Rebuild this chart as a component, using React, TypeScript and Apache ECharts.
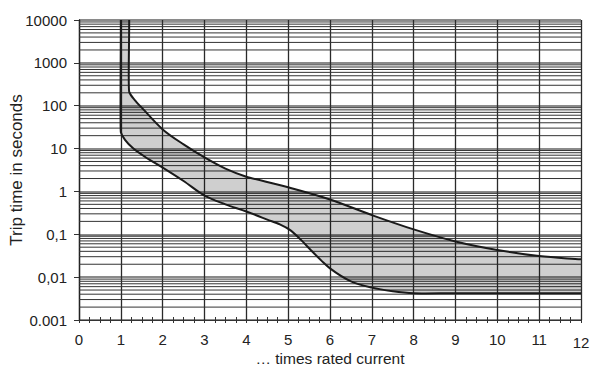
import React, { useEffect, useRef } from "react";
import * as echarts from "echarts";

// Upper boundary (slowest trip) of the tripping band
const upperX = [1.2, 1.2, 1.35, 1.55, 2.0, 2.5, 3.0, 3.5, 4.0, 5.0, 6.0, 7.0, 8.0, 9.0, 10.0, 11.0, 12.0];
const upperY = [10000, 210, 130, 80, 28, 12.5, 6.2, 3.4, 2.2, 1.25, 0.65, 0.28, 0.13, 0.068, 0.043, 0.031, 0.026];

// Lower boundary (fastest trip) of the tripping band
const lowerX = [1.0, 1.0, 1.1, 1.3, 1.6, 2.0, 2.5, 3.0, 3.5, 4.0, 4.5, 4.8, 5.05, 5.3, 5.55, 5.8, 6.0, 6.5, 7.0, 7.5, 8.0, 9.0, 10.0, 11.0, 12.0];
const lowerY = [10000, 24, 16, 10, 6.2, 3.6, 1.75, 0.8, 0.5, 0.34, 0.22, 0.17, 0.125, 0.075, 0.042, 0.024, 0.016, 0.008, 0.0057, 0.0047, 0.0042, 0.0042, 0.0042, 0.0042, 0.0042];

// Y tick labels, from 0.001 up to 10000
const yTickLabels = ["0.001", "0,01", "0,1", "1", "10", "100", "1000", "10000"];
const minorFactors = [2, 3, 4, 5, 6, 7, 8, 9];
const decadeExponents = [-3, -2, -1, 0, 1, 2, 3];

const FONT = "'Liberation Sans', Arial, Helvetica, sans-serif";

function smoothPath(p: number[][], move: boolean): string {
  const n = p.length;
  const L: number[] = [];
  const U: number[][] = [];
  for (let i = 0; i < n - 1; i++) {
    const dx = p[i + 1][0] - p[i][0];
    const dy = p[i + 1][1] - p[i][1];
    const l = Math.hypot(dx, dy) || 1e-6;
    L.push(l);
    U.push([dx / l, dy / l]);
  }
  const D = p.map((_, i) => {
    if (i === 0) return U[0];
    if (i === n - 1) return U[n - 2];
    const a = U[i - 1][0] + U[i][0];
    const b = U[i - 1][1] + U[i][1];
    const l = Math.hypot(a, b) || 1;
    return [a / l, b / l];
  });
  const H = p.map((_, i) =>
    i === 0 ? L[0] / 3 : i === n - 1 ? L[n - 2] / 3 : Math.min(L[i - 1], L[i]) / 3
  );
  let s = (move ? "M" : "L") + p[0][0].toFixed(2) + " " + p[0][1].toFixed(2);
  for (let i = 0; i < n - 1; i++) {
    const c1x = p[i][0] + D[i][0] * H[i];
    const c1y = p[i][1] + D[i][1] * H[i];
    const c2x = p[i + 1][0] - D[i + 1][0] * H[i + 1];
    const c2y = p[i + 1][1] - D[i + 1][1] * H[i + 1];
    s += ` C${c1x.toFixed(2)} ${c1y.toFixed(2)} ${c2x.toFixed(2)} ${c2y.toFixed(2)} ${p[i + 1][0].toFixed(2)} ${p[i + 1][1].toFixed(2)}`;
  }
  return s;
}

export default function App() {
  const ref = useRef<HTMLDivElement>(null);
  useEffect(() => {
    const chart = echarts.init(ref.current!, null, { renderer: "svg" });
    const option: any = {
      animation: false,
      textStyle: { fontFamily: FONT },
      grid: { left: 79, right: 17, top: 20, bottom: 49, containLabel: false, outerBoundsMode: "none" },
      xAxis: [
        {
          type: "value",
          min: 0,
          max: 12,
          interval: 1,
          axisLine: { show: true, lineStyle: { color: "#333", width: 1 } },
          axisTick: { show: true, length: 3, lineStyle: { color: "#333" } },
          minorTick: { show: true, splitNumber: 4, length: 3, lineStyle: { color: "#333" } },
          splitLine: { show: true, lineStyle: { color: "#2a2a2a", width: 1.3 } },
          axisLabel: {
            fontSize: 15,
            color: "#222",
            margin: 12,
            formatter: (v: number) => (v === 12 ? "{low|12}" : String(v)),
            rich: { low: { fontSize: 15, color: "#222", padding: [3, 0, 0, 0] } },
          },
          name: "… times rated current",
          nameLocation: "middle",
          nameGap: 30,
          nameMoveOverlap: false,
          nameTextStyle: { fontSize: 15.5, color: "#222" },
        },
        {
          type: "value",
          min: 0,
          max: 12,
          interval: 1,
          position: "bottom",
          offset: 0,
          axisLine: { show: false },
          axisTick: { show: false, inside: true },
          minorTick: { show: true, splitNumber: 4, length: 3, lineStyle: { color: "#333" } },
          splitLine: { show: false },
          axisLabel: { show: false },
        },
      ],
      yAxis: {
        type: "log",
        logBase: 10,
        min: 0.001,
        max: 10000,
        axisLine: { show: true, lineStyle: { color: "#222", width: 1.3 } },
        axisTick: { show: true, length: 5, lineStyle: { color: "#333" } },
        axisLabel: {
          fontSize: 15,
          color: "#222",
          margin: 12,
          formatter: (v: number) => yTickLabels[Math.round(Math.log10(v)) + 3] ?? "",
        },
        splitLine: { show: true, lineStyle: { color: "#8a8a8a", width: 2 } },
        name: "Trip time in seconds",
        nameLocation: "middle",
        nameGap: 54,
        nameMoveOverlap: false,
        nameTextStyle: { fontSize: 17, color: "#222" },
      },
      series: [
        {
          type: "custom",
          silent: true,
          data: [[1, 1]],
          renderItem: (params: any, api: any) => {
            const children: any[] = [];
            decadeExponents.forEach((e) => {
              minorFactors.forEach((f) => {
                const v = f * Math.pow(10, e);
                const a = api.coord([0, v]);
                const b = api.coord([12, v]);
                children.push({
                  type: "line",
                  shape: { x1: a[0], y1: a[1], x2: b[0], y2: b[1] },
                  style: { stroke: "#333", lineWidth: 1 },
                });
              });
            });
            const up = upperX.map((x, i) => api.coord([x, upperY[i]]));
            const lo = lowerX.map((x, i) => api.coord([x, lowerY[i]]));
            const upPath = smoothPath(up, true);
            const loPath = smoothPath(lo, true);
            const loRevPath = smoothPath(lo.slice().reverse(), false);
            children.push({
              type: "path",
              shape: { pathData: upPath + " " + loRevPath + " Z" },
              style: { fill: "rgba(0,0,0,0.19)", stroke: "none" },
            });
            children.push({
              type: "path",
              shape: { pathData: upPath },
              style: { fill: "none", stroke: "#1a1a1a", lineWidth: 2 },
            });
            children.push({
              type: "path",
              shape: { pathData: loPath },
              style: { fill: "none", stroke: "#1a1a1a", lineWidth: 2 },
            });
            return { type: "group", children };
          },
        },
      ],
    };
    chart.setOption(option);
    return () => chart.dispose();
  }, []);
  return (
    <div
      ref={ref}
      style={{ position: "absolute", left: 0, top: 0, width: 598, height: 369 }}
    />
  );
}
